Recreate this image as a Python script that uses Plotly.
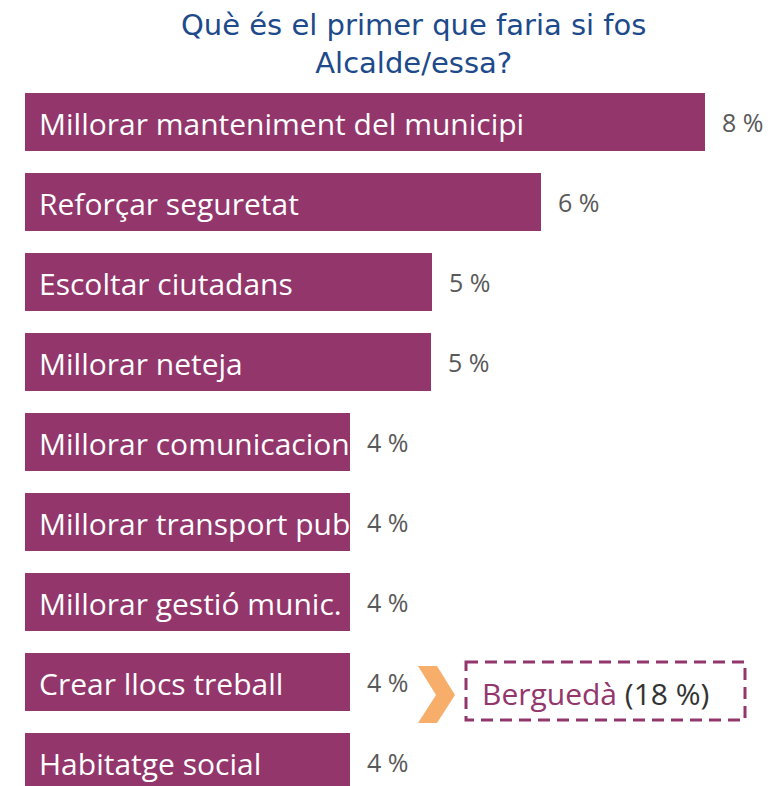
import plotly.graph_objects as go

categories = [
    "Millorar manteniment del municipi",
    "Reforçar seguretat",
    "Escoltar ciutadans",
    "Millorar neteja",
    "Millorar comunicacion",
    "Millorar transport publ.",
    "Millorar gestió munic.",
    "Crear llocs treball",
    "Habitatge social",
]
values = [8.37, 6.35, 5.01, 5.0, 4.0, 4.0, 4.0, 4.0, 4.0]
value_labels = ["8 %", "6 %", "5 %", "5 %", "4 %", "4 %", "4 %", "4 %", "4 %"]
highlight_name = "Berguedà"
highlight_value = "(18 %)"

PURPLE = "#93366C"
PAGE_OFF = 8  # default body margin of the html page
W, H = 774 - PAGE_OFF, 786 - PAGE_OFF
PLOT_LEFT, PLOT_TOP = 25, 82  # page pixels
ML, MR, MT, MB = PLOT_LEFT - PAGE_OFF, 1, PLOT_TOP - PAGE_OFF, 0
PX_PER_PCT = 81.25
PX_PER_ROW = 80
xmax = (W - ML - MR) / PX_PER_PCT
ytop = -0.5
ybot = ytop + (H - MT - MB) / PX_PER_ROW


def px2x(px):
    return (px - PLOT_LEFT) / PX_PER_PCT


def px2y(py):
    return ytop + (py - PLOT_TOP) / PX_PER_ROW


ypos = list(range(len(categories)))

fig = go.Figure(
    go.Bar(
        x=values,
        y=ypos,
        orientation="h",
        width=0.725,
        marker=dict(color=PURPLE, line=dict(width=0)),
        hoverinfo="skip",
    )
)

annotations = []
for i, (cat, v, lab) in enumerate(zip(categories, values, value_labels)):
    annotations.append(dict(
        x=0, y=i, xref="x", yref="y", text=cat, showarrow=False,
        xanchor="left", yanchor="middle", xshift=12, yshift=-1,
        font=dict(family="Open Sans, Liberation Sans", size=30, color="white"),
    ))
    annotations.append(dict(
        x=v, y=i, xref="x", yref="y", text=lab, showarrow=False,
        xanchor="left", yanchor="middle", xshift=15,
        font=dict(family="Open Sans, Liberation Sans", size=25, color="#595959"),
    ))

annotations.append(dict(
    x=px2x(480), y=px2y(693), xref="x", yref="y",
    text=f"<span style='color:{PURPLE}'>{highlight_name}</span> {highlight_value}",
    showarrow=False, xanchor="left", yanchor="middle",
    font=dict(family="Open Sans, Liberation Sans", size=30, color="#333333"),
))

annotations.append(dict(
    x=(406 - PAGE_OFF) / W, y=1, xref="paper", yref="paper",
    text="Què és el primer que faria si fos<br>Alcalde/essa?",
    showarrow=False, xanchor="center", yanchor="bottom", yshift=0,
    font=dict(family="DejaVu Sans, Verdana", size=29, color="#1D4A8A"),
))

shapes = [
    dict(type="rect", xref="x", yref="y",
         x0=px2x(466), x1=px2x(745), y0=px2y(662), y1=px2y(720),
         line=dict(color=PURPLE, width=3, dash="12px,7px"), fillcolor="rgba(0,0,0,0)"),
]
chev = [(418, 666), (437, 666), (455, 695), (437, 723), (418, 723), (436, 695)]
path = "M " + " L ".join(f"{px2x(a)},{px2y(b)}" for a, b in chev) + " Z"
shapes.append(dict(type="path", xref="x", yref="y", path=path,
                   fillcolor="#F8AE6B", line=dict(width=0)))

fig.update_layout(
    width=W, height=H,
    margin=dict(l=ML, r=MR, t=MT, b=MB),
    paper_bgcolor="white", plot_bgcolor="white",
    showlegend=False,
    xaxis=dict(range=[0, xmax], visible=False, fixedrange=True),
    yaxis=dict(range=[ybot, ytop], visible=False, fixedrange=True),
    annotations=annotations,
    shapes=shapes,
    bargap=0,
)

fig.write_html("out.html")
